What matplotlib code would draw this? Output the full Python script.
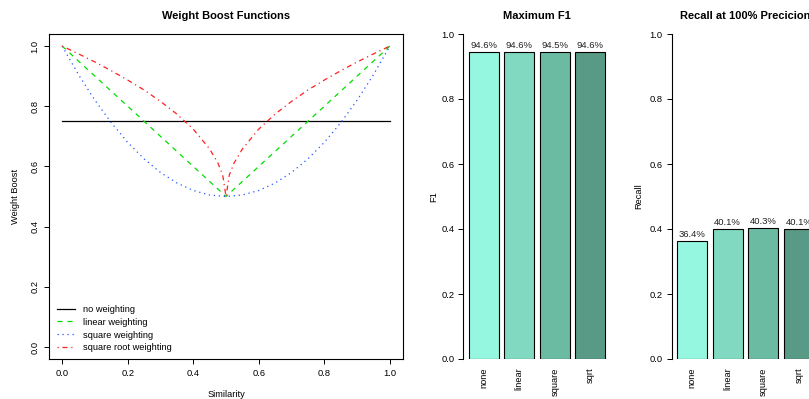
import matplotlib
matplotlib.use('Agg')
import matplotlib.pyplot as plt

plt.rcParams['font.family'] = ['Liberation Sans', 'DejaVu Sans']

# curves (x = similarity)
sim_x = [0.0, 0.05, 0.1, 0.15, 0.2, 0.25, 0.3, 0.35, 0.4, 0.45, 0.5,
         0.55, 0.6, 0.65, 0.7, 0.75, 0.8, 0.85, 0.9, 0.95, 1.0]
no_weight = [0.75] * 21
linear_w = [1.0, 0.95, 0.9, 0.85, 0.8, 0.75, 0.7, 0.65, 0.6, 0.55, 0.5,
            0.55, 0.6, 0.65, 0.7, 0.75, 0.8, 0.85, 0.9, 0.95, 1.0]
square_w = [1.0, 0.905, 0.82, 0.745, 0.68, 0.625, 0.58, 0.545, 0.52, 0.505, 0.5,
            0.505, 0.52, 0.545, 0.58, 0.625, 0.68, 0.745, 0.82, 0.905, 1.0]
sqrt_x = [0.0, 0.05, 0.1, 0.15, 0.2, 0.25, 0.3, 0.35, 0.4, 0.45, 0.475, 0.49, 0.5,
          0.51, 0.525, 0.55, 0.6, 0.65, 0.7, 0.75, 0.8, 0.85, 0.9, 0.95, 1.0]
sqrt_w = [1.0, 0.974, 0.947, 0.918, 0.887, 0.854, 0.816, 0.774, 0.724, 0.658, 0.612, 0.571, 0.5,
          0.571, 0.612, 0.658, 0.724, 0.774, 0.816, 0.854, 0.887, 0.918, 0.947, 0.974, 1.0]

methods = ['none', 'linear', 'square', 'sqrt']
max_f1 = [0.946, 0.946, 0.945, 0.946]
recall_100 = [0.364, 0.401, 0.403, 0.401]
bar_colors = ['#96F7E0', '#80D9C0', '#6BBBA3', '#589A86']

W, H = 809, 399
fig = plt.figure(figsize=(W / 100, H / 100), dpi=100)

def px_axes(left, top, right, bottom):
    return fig.add_axes([left / W, (H - bottom) / H, (right - left) / W, (bottom - top) / H])

fs = 6.7

# ---- left panel: weight boost functions
ax = px_axes(49, 34, 403, 359)
ax.plot(sim_x, no_weight, color='black', lw=0.9, label='no weighting')
ax.plot(sim_x, linear_w, color='#00DD00', lw=0.9, dashes=(4, 4), label='linear weighting')
ax.plot(sim_x, square_w, color='#2255FF', lw=0.9, dashes=(1, 3), label='square weighting')
ax.plot(sqrt_x, sqrt_w, color='#FF2020', lw=0.9, dashes=(1, 3, 4, 3), label='square root weighting')
ax.set_xlim(-0.04, 1.04)
ax.set_ylim(-0.04, 1.04)
ticks = [0.0, 0.2, 0.4, 0.6, 0.8, 1.0]
ax.set_xticks(ticks)
ax.set_yticks(ticks)
ax.set_xticklabels([f'{t:.1f}' for t in ticks])
ax.set_yticklabels([f'{t:.1f}' for t in ticks], rotation=90, va='center')
ax.tick_params(labelsize=fs, length=3.6, width=0.7, pad=3.5)
for s in ax.spines.values():
    s.set_linewidth(0.8)
ax.set_xlabel('Similarity', fontsize=fs, labelpad=9)
ax.set_ylabel('Weight Boost', fontsize=fs, labelpad=7)
ax.set_title('Weight Boost Functions', fontsize=8, fontweight='bold', pad=11)
ax.legend(loc='lower left', bbox_to_anchor=(0.023, 0.02), frameon=False, fontsize=fs,
          handlelength=1.95, handletextpad=0.85, labelspacing=0.42,
          borderpad=0, borderaxespad=0)

# ---- bar panels
def bar_panel(left, values, title, ylabel, lpad):
    bx = px_axes(left, 34, left + 147, 359)
    pos = [0.7, 1.9, 3.1, 4.3]
    bx.bar(pos, values, width=1.0, color=bar_colors, edgecolor='black', linewidth=0.8)
    for p, v in zip(pos, values):
        bx.text(p, v + 0.006, f'{v * 100:.1f}%', ha='center', va='bottom', fontsize=6.8, color='#222222')
    bx.set_xlim(0.016, 4.984)
    bx.set_ylim(0, 1)
    for side in ['top', 'right', 'bottom']:
        bx.spines[side].set_visible(False)
    bx.spines['left'].set_linewidth(0.8)
    bx.set_yticks(ticks)
    bx.set_yticklabels([f'{t:.1f}' for t in ticks])
    bx.set_xticks(pos)
    bx.set_xticklabels(methods, rotation=90, va='top')
    bx.tick_params(axis='x', length=0, pad=6, labelsize=fs)
    bx.tick_params(axis='y', length=3.6, width=0.7, pad=3, labelsize=fs)
    bx.set_ylabel(ylabel, fontsize=fs, labelpad=lpad)
    bx.set_title(title, fontsize=8, fontweight='bold', pad=11)
    bx.patch.set_alpha(0)
    return bx

bar_panel(463.5, max_f1, 'Maximum F1', 'F1', 2)
bar_panel(672, recall_100, 'Recall at 100% Precicion', 'Recall', 5)

fig.savefig('out.png', dpi=100)
